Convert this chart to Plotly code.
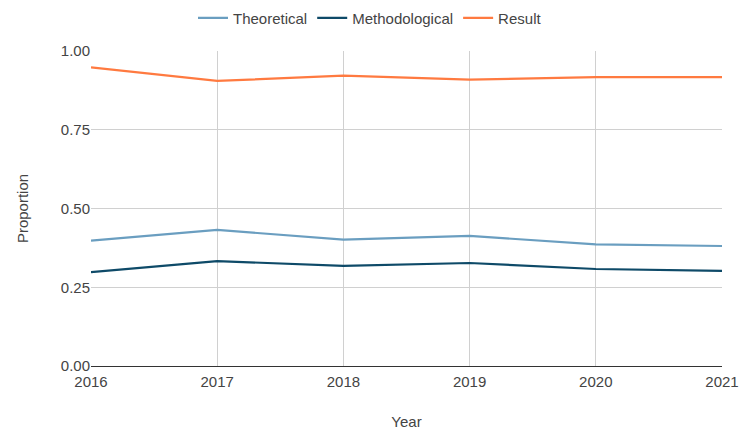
import plotly.graph_objects as go

years = [2016, 2017, 2018, 2019, 2020, 2021]
theoretical = [0.398, 0.432, 0.401, 0.413, 0.386, 0.381]
methodological = [0.298, 0.333, 0.318, 0.327, 0.308, 0.302]
result = [0.948, 0.905, 0.922, 0.909, 0.917, 0.917]

series_names = ["Theoretical", "Methodological", "Result"]
series_values = [theoretical, methodological, result]
colors = ["#6a9ec0", "#0e4a68", "#ff7a40"]

FONT = "Liberation Sans, Arial, sans-serif"
TXT = "#444444"

fig = go.Figure()
for name, vals, c in zip(series_names, series_values, colors):
    fig.add_trace(go.Scatter(x=years, y=vals, mode="lines", name=name,
                             line=dict(color=c, width=2.2)))

fig.update_layout(
    width=740, height=430,
    margin=dict(l=91, r=18, t=51, b=64, autoexpand=False),
    paper_bgcolor="white", plot_bgcolor="white",
    font=dict(family=FONT, size=15, color=TXT),
    legend=dict(orientation="h", x=0.5, xanchor="center", xref="container",
                y=0.958, yanchor="middle", yref="container",
                font=dict(family=FONT, size=15, color=TXT),
                itemwidth=30, tracegroupgap=0),
    xaxis=dict(range=[2016, 2021], tickvals=years, ticktext=[str(y) for y in years],
               showgrid=True, gridcolor="#d0d0d0", gridwidth=1,
               showline=True, linecolor="#333", linewidth=1,
               zeroline=False, ticks="", ticklabelstandoff=2,
               tickfont=dict(family=FONT, size=15, color=TXT),
               title=dict(text="Year", font=dict(family=FONT, size=15, color=TXT), standoff=30)),
    yaxis=dict(range=[0, 1], tickvals=[0, 0.25, 0.5, 0.75, 1.0],
               tickformat=".2f", showgrid=True, gridcolor="#d0d0d0", gridwidth=1,
               zeroline=False, showline=False, ticks="",
               tickfont=dict(family=FONT, size=15, color=TXT),
               title=dict(text="Proportion", font=dict(family=FONT, size=15, color=TXT), standoff=28)),
)

fig.write_html("out.html", config={"displayModeBar": False},
               post_script="document.body.style.margin='0';")
